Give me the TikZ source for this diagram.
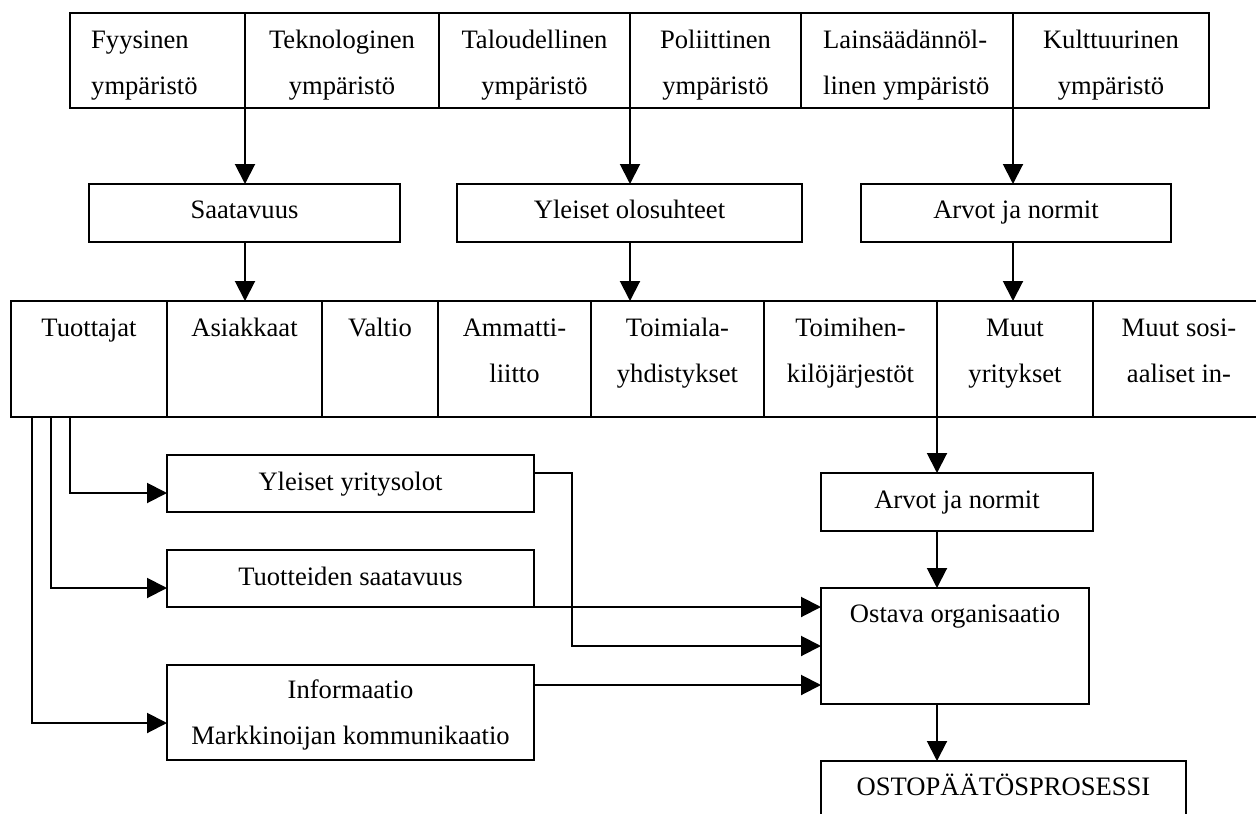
\documentclass[tikz,border=0pt]{standalone}
\usepackage{fontspec}
\setmainfont{Liberation Serif}
\usetikzlibrary{arrows.meta}
\begin{document}
\begin{tikzpicture}[x=1pt,y=-1pt,
  box/.style={draw, line width=2pt, inner sep=0pt, outer sep=0pt, anchor=north west},
  lbl/.style={font=\fontsize{26.6}{46}\selectfont, inner sep=0pt, align=center, anchor=north},
  lbll/.style={lbl, align=left, anchor=north west},
  arr/.style={line width=2pt, -{Triangle[length=20pt,width=20pt]}},
  wire/.style={line width=2pt}]
\useasboundingbox (0,0) rectangle (1256,814);
\fill[white] (0,0) rectangle (1256,814);
\clip (0,0) rectangle (1256,814);

% top row
\node[box, minimum width=175pt, minimum height=95pt] (t1) at (70,13) {};
\node[box, minimum width=194pt, minimum height=95pt] (t2) at (245,13) {};
\node[box, minimum width=191pt, minimum height=95pt] (t3) at (439,13) {};
\node[box, minimum width=171pt, minimum height=95pt] (t4) at (630,13) {};
\node[box, minimum width=212pt, minimum height=95pt] (t5) at (801,13) {};
\node[box, minimum width=196pt, minimum height=95pt] (t6) at (1013,13) {};
\node[lbll] (tx1) at ([xshift=21pt,yshift=-3pt]t1.north west) {\strut Fyysinen\\\strut ympäristö};
\node[lbl] (tx2) at ([yshift=-3pt]t2.north) {\strut Teknologinen\\\strut ympäristö};
\node[lbl] (tx3) at ([yshift=-3pt]t3.north) {\strut Taloudellinen\\\strut ympäristö};
\node[lbl] (tx4) at ([yshift=-3pt]t4.north) {\strut Poliittinen\\\strut ympäristö};
\node[lbll] (tx5) at ([xshift=22pt,yshift=-3pt]t5.north west) {\strut Lainsäädännöl-\\\strut linen ympäristö};
\node[lbl] (tx6) at ([yshift=-3pt]t6.north) {\strut Kulttuurinen\\\strut ympäristö};

% middle row
\node[box, minimum width=311pt, minimum height=58pt] (m1) at (89,184) {};
\node[box, minimum width=345pt, minimum height=58pt] (m2) at (457,184) {};
\node[box, minimum width=310pt, minimum height=58pt] (m3) at (861,184) {};
\node[lbl] (mx1) at ([yshift=-2pt]m1.north) {\strut Saatavuus};
\node[lbl] (mx2) at ([yshift=-2pt]m2.north) {\strut Yleiset olosuhteet};
\node[lbl] (mx3) at ([yshift=-2pt]m3.north) {\strut Arvot ja normit};

% third row
\node[box, minimum width=156pt, minimum height=116pt] (r1) at (11,301) {};
\node[box, minimum width=155pt, minimum height=116pt] (r2) at (167,301) {};
\node[box, minimum width=116pt, minimum height=116pt] (r3) at (322,301) {};
\node[box, minimum width=153pt, minimum height=116pt] (r4) at (438,301) {};
\node[box, minimum width=173pt, minimum height=116pt] (r5) at (591,301) {};
\node[box, minimum width=173pt, minimum height=116pt] (r6) at (764,301) {};
\node[box, minimum width=156pt, minimum height=116pt] (r7) at (937,301) {};
\node[box, minimum width=172pt, minimum height=116pt] (r8) at (1093,301) {};
\node[lbl] (rx1) at ([yshift=-3.5pt]r1.north) {\strut Tuottajat};
\node[lbl] (rx2) at ([yshift=-3.5pt]r2.north) {\strut Asiakkaat};
\node[lbl] (rx3) at ([yshift=-3.5pt]r3.north) {\strut Valtio};
\node[lbl] (rx4) at ([yshift=-3.5pt]r4.north) {\strut Ammatti-\\\strut liitto};
\node[lbl] (rx5) at ([yshift=-3.5pt]r5.north) {\strut Toimiala-\\\strut yhdistykset};
\node[lbl] (rx6) at ([yshift=-3.5pt]r6.north) {\strut Toimihen-\\\strut kilöjärjestöt};
\node[lbl] (rx7) at ([yshift=-3.5pt]r7.north) {\strut Muut\\\strut yritykset};
\node[lbl] (rx8) at ([yshift=-3.5pt]r8.north) {\strut Muut sosi-\\\strut aaliset in-};

% lower left boxes
\node[box, minimum width=367pt, minimum height=57pt] (y1) at (167,455) {};
\node[box, minimum width=367pt, minimum height=57pt] (y2) at (167,550) {};
\node[box, minimum width=367pt, minimum height=95pt] (y3) at (167,665) {};
\node[lbl] (yx1) at ([yshift=-3.5pt]y1.north) {\strut Yleiset yritysolot};
\node[lbl] (yx2) at ([yshift=-3.5pt]y2.north) {\strut Tuotteiden saatavuus};
\node[lbl] (yx3) at ([yshift=-1pt]y3.north) {\strut Informaatio\\\strut Markkinoijan kommunikaatio};

% lower right boxes
\node[box, minimum width=272pt, minimum height=58pt] (a2) at (821,473) {};
\node[box, minimum width=268pt, minimum height=116pt] (o1) at (821,588) {};
\node[box, minimum width=365pt, minimum height=80pt] (o2) at (821,761) {};
\node[lbl] (ax2) at ([yshift=-3.5pt]a2.north) {\strut Arvot ja normit};
\node[lbl] (ox1) at ([yshift=-2.5pt]o1.north) {\strut Ostava organisaatio};
\node[lbl] (ox2) at ([yshift=-2pt]o2.north) {\strut OSTOPÄÄTÖSPROSESSI};

% top arrows
\draw[arr] (t1.south east) -- (t1.south east |- m1.north);
\draw[arr] (t3.south east) -- (t3.south east |- m2.north);
\draw[arr] (t5.south east) -- (t5.south east |- m3.north);
\draw[arr] (t1.south east |- m1.south) -- (t1.south east |- r2.north);
\draw[arr] (t3.south east |- m2.south) -- (t3.south east |- r5.north);
\draw[arr] (t5.south east |- m3.south) -- (t5.south east |- r7.north);

% right column
\draw[arr] (r6.south east) -- (r6.south east |- a2.north);
\draw[arr] (r6.south east |- a2.south) -- (r6.south east |- o1.north);
\draw[arr] (r6.south east |- o1.south) -- (r6.south east |- o2.north);

% left feeders
\draw[arr] ([xshift=59pt]r1.south west) |- ([yshift=-9.5pt]y1.west);
\draw[arr] ([xshift=40pt]r1.south west) |- ([yshift=-9.5pt]y2.west);
\draw[arr] ([xshift=21pt]r1.south west) |- ([yshift=-10.5pt]y3.west);

% into Ostava organisaatio
\coordinate (bend) at (572,646);
\draw[arr] ([yshift=10.5pt]y1.east) -| (bend) -- (bend -| o1.west);
\draw[arr] (y2.south east) -- (y2.south east -| o1.west);
\draw[arr] ([yshift=27.5pt]y3.east) -- ([yshift=27.5pt]y3.east -| o1.west);
\end{tikzpicture}
\end{document}
